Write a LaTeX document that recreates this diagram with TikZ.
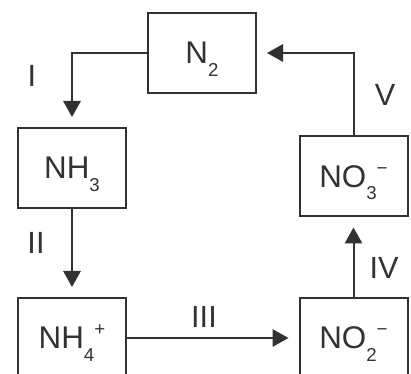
\documentclass[tikz,border=0pt]{standalone}
\usepackage{fontspec}
\setmainfont{Liberation Sans}
\usepackage{xcolor}
\usetikzlibrary{arrows.meta}

\definecolor{inkgray}{RGB}{50,50,50}
\newcommand{\lowsub}[1]{\raisebox{-0.4em}[0pt][0pt]{\fontsize{14}{14}\selectfont #1}}
\newcommand{\highsup}[1]{\raisebox{0.42em}[0pt][0pt]{\fontsize{14}{14}\selectfont #1}}

\tikzset{
  chembox/.style={draw=inkgray, line width=1.5pt, minimum width=81pt, minimum height=60pt, inner sep=0pt, text=inkgray, font=\fontsize{23.5}{27}\selectfont},
  steplabel/.style={inner sep=0pt, text=inkgray, font=\fontsize{23}{27}\selectfont},
  flow/.style={draw=inkgray, line width=1.5pt, -{Triangle[width=13pt,length=12pt]}, shorten >=7.5pt}
}

\begin{document}
\begin{tikzpicture}[x=0.75pt,y=0.75pt,yscale=-1,xscale=1]
\useasboundingbox (0,0) rectangle (411,374);
\clip (0,0) rectangle (411,374);

%Boxes
\node [chembox] (n2) at (202,53) {N\lowsub{2}};
\node [chembox] (nh3) at (72,168) {NH\lowsub{3}};
\node [chembox] (nh4) at (72,338) {NH\lowsub{4}\highsup{+}};
\node [chembox] (no2) at (353.5,338) {NO\lowsub{2}\highsup{\textminus}};
\node [chembox] (no3) at (353.5,176.5) {NO\lowsub{3}\highsup{\textminus}};

%Arrows
\draw [flow] (n2.west) -| (nh3.north);
\draw [flow] (nh3.south) -- (nh4.north);
\draw [flow] (nh4.east) -- (no2.west);
\draw [flow] (no2.north) -- (no3.south);
\draw [flow] (no3.north) |- (n2.east);

%Labels
\node [steplabel] (labI) at (32,76) {I};
\node [steplabel] (labII) at (36,243) {II};
\node [steplabel] (labIII) at (204,317) {III};
\node [steplabel] (labIV) at (384,268) {IV};
\node [steplabel] (labV) at (385,95) {V};

\end{tikzpicture}
\end{document}
